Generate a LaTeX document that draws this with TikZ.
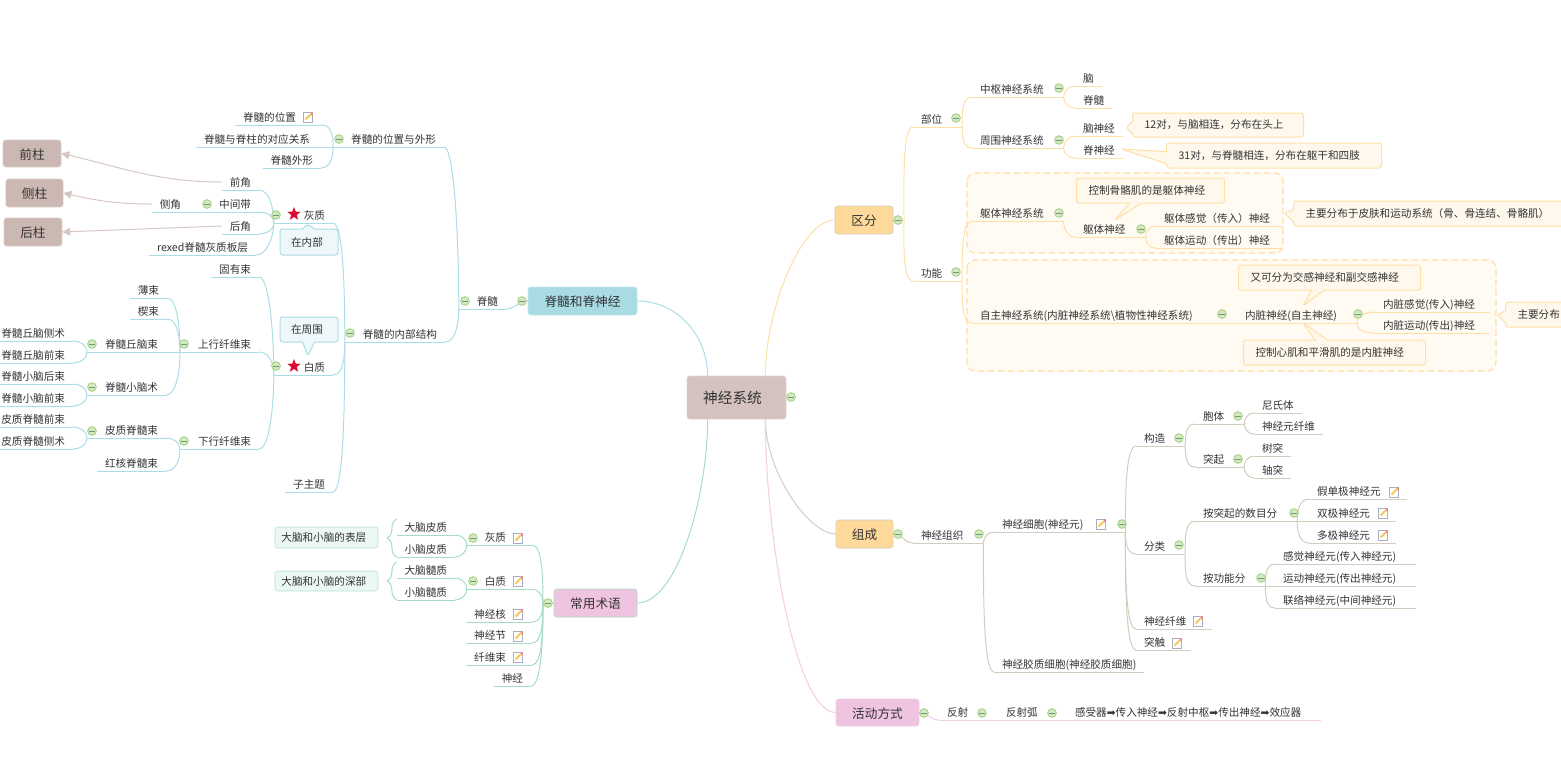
\documentclass[tikz,border=0pt]{standalone}
\usepackage{fontspec}
\setmainfont{Noto Sans CJK SC}
\newfontfamily\symfont{DejaVu Sans}
\usetikzlibrary{arrows.meta,shapes.geometric,shapes.callouts,decorations.pathreplacing}
\definecolor{ink}{HTML}{333333}
\definecolor{sky}{HTML}{ABDDE6}
\definecolor{amber}{HTML}{FFDFA6}
\definecolor{mint}{HTML}{A6DCC6}
\definecolor{sand}{HTML}{D3CDBF}
\definecolor{blush}{HTML}{F3CBE4}
\definecolor{rootfill}{HTML}{D3C2BE}
\definecolor{pillar}{HTML}{CBB8B2}
\definecolor{pillarln}{HTML}{D6C7C3}
\definecolor{orange}{HTML}{FFD999}
\definecolor{cyan}{HTML}{A9DBE3}
\definecolor{rose}{HTML}{EFC4E0}
\definecolor{foldring}{HTML}{A0CF7C}
\definecolor{foldfill}{HTML}{D5E8C4}
\definecolor{foldbar}{HTML}{6E9C70}
\definecolor{noteln}{HTML}{ABABC6}
\definecolor{notepen}{HTML}{F6CC62}
\definecolor{notetip}{HTML}{EA8796}
\definecolor{starred}{HTML}{DD0A2F}
\tikzset{
  link/.style={line width=.75pt},
  topic/.style={font=\fontsize{7.95pt}{10pt}\selectfont,text=ink,inner xsep=6pt,inner ysep=0pt,outer sep=0pt,
    text height=9pt,text depth=3pt,
    append after command={(\tikzlastnode.south west) edge[link,#1] (\tikzlastnode.south east)}},
  rleaf/.style={topic=#1,anchor=south west},
  lleaf/.style={topic=#1,anchor=south east},
  rnode/.style={rleaf=#1,execute at end node={\hspace*{9pt}}},
  lnode/.style={lleaf=#1,execute at begin node={\hspace*{7.5pt}}},
  withnote/.style={execute at end node={\hspace*{13.5pt}}},
  withstar/.style={execute at begin node={\hspace*{9pt}}},
  tailgap/.style={execute at end node={\hspace*{#1}}},
  rup/.style={out=90,in=180,in max distance=8pt},
  rdn/.style={out=-90,in=180,in max distance=8pt},
  lup/.style={out=90,in=0,in max distance=8pt},
  ldn/.style={out=-90,in=0,in max distance=8pt},
  mainbox/.style={rectangle,rounded corners=2pt,text=ink,font=\fontsize{9.5pt}{12pt}\selectfont,inner sep=0pt,
    text height=9.5pt,text depth=1pt},
  tagbox/.style={rectangle,rounded corners=2pt,text=ink,font=\fontsize{7.95pt}{10pt}\selectfont,inner sep=0pt},
  amberc/.style={rectangle callout,rounded corners=2pt,draw=amber,fill=amber!20,line width=.75pt,text=ink,
    font=\fontsize{7.95pt}{10pt}\selectfont,inner sep=0pt,callout pointer width=9pt},
  skyc/.style={amberc,draw=sky,fill=sky!20},
  flush/.style={anchor=west,align=left,inner xsep=9pt},
  dashbox/.style={draw=amber,fill=amber!14,line width=.9pt,dash pattern=on 5pt off 2.5pt,rounded corners=6pt},
  fold/.style={circle,draw=foldring,fill=foldfill,line width=.6pt,minimum size=6.5pt,inner sep=0pt,
    path picture={\draw[foldbar,line width=.6pt] (path picture bounding box.center) +(-2pt,0) -- +(2pt,0);}},
  starmark/.style={star,star points=5,star point ratio=2.4,fill=starred,minimum size=10.5pt,inner sep=0pt},
  pointer/.style={draw=pillarln,line width=.75pt,-{Triangle[length=6pt,width=6pt]}},
  noteicon/.pic={
    \draw[draw=noteln,fill=white,line width=.7pt] (-5,-5) rectangle (4,5);
    \draw[notepen,line width=1.6pt] (-2.5,-2.5) -- (3,3);
    \fill[notetip] (2.5,2.5) rectangle (5,5);
  }
}
\begin{document}
\begin{tikzpicture}[x=.75pt,y=.75pt]
\useasboundingbox (0,0) rectangle (1561,-772);
\draw[dashbox] (967,-173) rectangle (1283,-253);
\draw[dashbox] (967,-260) rectangle (1496,-371);

\node[mainbox,fill=rootfill,draw=rootfill!70!white,minimum width=74.25pt,minimum height=32.25pt,font=\fontsize{11pt}{13pt}\selectfont,tailgap=6pt] (root) at (736.5,-397.5) {神经系统};
\node[mainbox,fill=orange,draw=sand,minimum width=43.5pt,minimum height=21pt] (qf) at (864,-220) {区分};
\node[mainbox,fill=orange,draw=sand,minimum width=43pt,minimum height=21pt] (zc) at (864.5,-534) {组成};
\node[mainbox,fill=rose,draw=blush,minimum width=62.25pt,minimum height=20.25pt] (hd) at (877.5,-712.5) {活动方式};
\node[mainbox,fill=cyan,draw=sky!70!white,minimum width=81.75pt,minimum height=21pt] (jsz) at (582.5,-301) {脊髓和脊神经};
\node[mainbox,fill=rose,draw=mint,minimum width=62.25pt,minimum height=21pt] (cy) at (595.5,-603) {常用术语};
\node[mainbox,fill=pillar,draw=pillar!70!white,minimum width=43.5pt,minimum height=20.25pt] (qz) at (32,-153.5) {前柱};
\node[mainbox,fill=pillar,draw=pillar!70!white,minimum width=43pt,minimum height=21pt] (cz) at (34.5,-193) {侧柱};
\node[mainbox,fill=pillar,draw=pillar!70!white,minimum width=43.5pt,minimum height=21pt] (hz) at (33,-232) {后柱};
\node[tagbox,fill=mint!22,draw=mint!80!white,minimum width=77.25pt,minimum height=15.75pt,tailgap=4pt] (bc) at (326.5,-537.5) {大脑和小脑的表层};
\node[tagbox,fill=mint!22,draw=mint!80!white,minimum width=77.25pt,minimum height=15pt,tailgap=4pt] (sb) at (326.5,-581) {大脑和小脑的深部};

\node[lnode=sky] (js) at (506,-309) {脊髓};
\node[lnode=sky] (wx) at (444,-147) {脊髓的位置与外形};
\node[lnode=sky] (nb) at (445,-342) {脊髓的内部结构};
\node[lleaf=sky,withnote] (wz) at (322,-125) {脊髓的位置};
\node[lleaf=sky] (dy) at (318,-147) {脊髓与脊柱的对应关系};
\node[lleaf=sky] (wxing) at (321,-168) {脊髓外形};
\node[lnode=sky,withstar] (gm) at (333,-223) {灰质};
\node[lnode=sky,withstar] (wm) at (333,-375) {白质};
\node[lleaf=sky] (zzt) at (333,-492) {子主题};
\node[lleaf=sky] (qj) at (259,-190) {前角};
\node[lnode=sky] (zjd) at (259,-212) {中间带};
\node[lleaf=sky] (cj) at (189,-212) {侧角};
\node[lleaf=sky] (hj) at (259,-234) {后角};
\node[lleaf=sky] (rex) at (256,-255) {rexed脊髓灰质板层};
\node[lleaf=sky] (gy) at (259,-277) {固有束};
\node[lnode=sky] (sx) at (259,-352) {上行纤维束};
\node[lnode=sky] (xx) at (259,-449) {下行纤维束};
\node[lleaf=sky] (bs) at (167,-298) {薄束};
\node[lleaf=sky] (xs) at (167,-319) {楔束};
\node[lnode=sky] (qn) at (166,-352) {脊髓丘脑束};
\node[lnode=sky] (xn) at (166,-395) {脊髓小脑术};
\node[lnode=sky] (pj) at (166,-438) {皮质脊髓束};
\node[lleaf=sky] (hh) at (166,-471) {红核脊髓束};
\node[lleaf=sky] (qnc) at (73,-341) {脊髓丘脑侧术};
\node[lleaf=sky] (qnq) at (73,-363) {脊髓丘脑前束};
\node[lleaf=sky] (xnh) at (73,-384) {脊髓小脑后束};
\node[lleaf=sky] (xnq) at (73,-406) {脊髓小脑前束};
\node[lleaf=sky] (pjq) at (73,-427) {皮质脊髓前束};
\node[lleaf=sky] (pjc) at (73,-449) {皮质脊髓侧术};

\coordinate (cyt) at (543,-603);
\node[lnode=mint,withnote] (hui) at (532,-545) {灰质};
\node[lnode=mint,withnote] (bai) at (532,-589) {白质};
\node[lleaf=mint,withnote] (sjh) at (532,-622) {神经核};
\node[lleaf=mint,withnote] (sjj) at (532,-643) {神经节};
\node[lleaf=mint,withnote] (xws) at (532,-665) {纤维束};
\node[lleaf=mint] (sj) at (531,-686) {神经};
\node[lleaf=mint] (dnp) at (455,-535) {大脑皮质};
\node[lleaf=mint] (xnp) at (455,-557) {小脑皮质};
\node[lleaf=mint] (dns) at (455,-578) {大脑髓质};
\node[lleaf=mint] (xns) at (455,-600) {小脑髓质};

\coordinate (qft) at (904,-220);
\node[rnode=amber] (bw) at (913,-127) {部位};
\node[rnode=amber] (gn) at (913,-281) {功能};
\node[rnode=amber] (zs) at (972,-97) {中枢神经系统};
\node[rnode=amber] (zw) at (972,-148) {周围神经系统};
\node[rleaf=amber] (nao) at (1075,-86) {脑};
\node[rleaf=amber] (jsu) at (1075,-108) {脊髓};
\node[rleaf=amber] (nsj) at (1075,-136) {脑神经};
\node[rleaf=amber] (jsj) at (1075,-158) {脊神经};
\node[rnode=amber] (qt) at (972,-221) {躯体神经系统};
\node[rnode=amber] (qs) at (1075,-237) {躯体神经};
\node[rleaf=amber,tailgap=4pt] (qg) at (1156,-226) {躯体感觉（传入）神经};
\node[rleaf=amber,tailgap=4pt] (qy) at (1156,-248) {躯体运动（传出）神经};
\node[rnode=amber] (zizhu) at (972,-323) {自主神经系统(内脏神经系统\textbackslash 植物性神经系统)};
\node[rnode=amber] (nz) at (1237,-323) {内脏神经(自主神经)};
\node[rleaf=amber,tailgap=5pt] (ng) at (1375,-312) {内脏感觉(传入)神经};
\node[rleaf=amber,tailgap=5pt] (ny) at (1375,-333) {内脏运动(传出)神经};

\node[rnode=sand] (zuzhi) at (913,-543) {神经组织};
\node[rnode=sand,withnote,tailgap=3pt] (xb) at (994,-532) {神经细胞(神经元)};
\node[rleaf=sand] (jz) at (994,-672) {神经胶质细胞(神经胶质细胞)};
\node[rnode=sand] (gz) at (1136,-446) {构造};
\node[rnode=sand] (fl) at (1136,-554) {分类};
\node[rleaf=sand,withnote] (xw) at (1136,-629) {神经纤维};
\node[rleaf=sand,withnote] (tc) at (1136,-650) {突触};
\node[rnode=sand] (bt) at (1195,-424) {胞体};
\node[rnode=sand] (tq) at (1195,-467) {突起};
\node[rleaf=sand] (ns) at (1254,-413) {尼氏体};
\node[rleaf=sand] (xy) at (1254,-434) {神经元纤维};
\node[rleaf=sand] (st) at (1254,-456) {树突};
\node[rleaf=sand] (zt) at (1254,-478) {轴突};
\node[rnode=sand] (szq) at (1195,-521) {按突起的数目分};
\node[rnode=sand] (agn) at (1195,-586) {按功能分};
\node[rleaf=sand,withnote] (jd) at (1309,-499) {假单极神经元};
\node[rleaf=sand,withnote] (sj2) at (1309,-521) {双极神经元};
\node[rleaf=sand,withnote] (dj) at (1309,-543) {多极神经元};
\node[rnode=sand] (gj) at (1275,-564) {感觉神经元(传入神经元)};
\node[rnode=sand] (yd) at (1275,-586) {运动神经元(传出神经元)};
\node[rnode=sand] (ll) at (1275,-608) {联络神经元(中间神经元)};

\node[rnode=blush] (fs) at (939,-720) {反射};
\node[rnode=blush] (fsh) at (998,-720) {反射弧};
\node[rleaf=blush,tailgap=9pt] (lc) at (1067,-720) {感受器{\symfont ➡}传入神经{\symfont ➡}反射中枢{\symfont ➡}传出神经{\symfont ➡}效应器};

\draw[link,amber] (root.37) to[out=90,in=180,in max distance=25pt] (qf.west);
\draw[link,sky] (root.143) to[out=90,in=0] (jsz.east);
\draw[link,mint] (root.-143) to[out=-90,in=0,in max distance=30pt] (cy.east);
\draw[link,sand] (root.-37) to[out=-90,in=180,in max distance=20pt] (zc.west);
\draw[link,blush] (root.-37) to[out=-90,in=180,in max distance=30pt] (hd.west);

\draw[link,sky] (jsz.west) to[out=180,in=0] (js.south east);
\draw[link,sky] (js.south west) to[lup] (wx.south east);
\draw[link,sky] (js.south west) to[ldn] (nb.south east);
\draw[link,sky] (wx.south west) to[lup] (wz.south east);
\draw[link,sky] (wx.south west) -- (dy.south east);
\draw[link,sky] (wx.south west) to[ldn] (wxing.south east);
\draw[link,sky] (nb.south west) to[lup] (gm.south east);
\draw[link,sky] (nb.south west) to[ldn] (wm.south east);
\draw[link,sky] (nb.south west) to[ldn] (zzt.south east);
\draw[link,sky] (gm.south west) to[lup] (qj.south east);
\draw[link,sky] (gm.south west) to[lup] (zjd.south east);
\draw[link,sky] (gm.south west) to[ldn] (hj.south east);
\draw[link,sky] (gm.south west) to[ldn] (rex.south east);
\draw[link,sky] (zjd.south west) -- (cj.south east);
\draw[link,sky] (wm.south west) to[lup] (gy.south east);
\draw[link,sky] (wm.south west) to[lup] (sx.south east);
\draw[link,sky] (wm.south west) to[ldn] (xx.south east);
\draw[link,sky] (sx.south west) to[lup] (bs.south east);
\draw[link,sky] (sx.south west) to[lup] (xs.south east);
\draw[link,sky] (sx.south west) -- (qn.south east);
\draw[link,sky] (sx.south west) to[ldn] (xn.south east);
\draw[link,sky] (xx.south west) to[lup] (pj.south east);
\draw[link,sky] (xx.south west) to[ldn] (hh.south east);
\draw[link,sky] (qn.south west) to[lup] (qnc.south east);
\draw[link,sky] (qn.south west) to[ldn] (qnq.south east);
\draw[link,sky] (xn.south west) to[lup] (xnh.south east);
\draw[link,sky] (xn.south west) to[ldn] (xnq.south east);
\draw[link,sky] (pj.south west) to[lup] (pjq.south east);
\draw[link,sky] (pj.south west) to[ldn] (pjc.south east);
\draw[pointer] (qj.west) to[out=180,in=-13] (qz.east);
\draw[pointer] (cj.west) to[out=180,in=-13] (cz.east);
\draw[pointer] (hj.west) -- (hz.east);

\draw[link,mint] (cy.west) -- (cyt);
\draw[link,mint] (cyt) to[lup] (hui.south east);
\draw[link,mint] (cyt) to[lup] (bai.south east);
\draw[link,mint] (cyt) to[ldn] (sjh.south east);
\draw[link,mint] (cyt) to[ldn] (sjj.south east);
\draw[link,mint] (cyt) to[ldn] (xws.south east);
\draw[link,mint] (cyt) to[ldn] (sj.south east);
\draw[link,mint] (hui.south west) to[lup] (dnp.south east);
\draw[link,mint] (hui.south west) to[ldn] (xnp.south east);
\draw[link,mint] (bai.south west) to[lup] (dns.south east);
\draw[link,mint] (bai.south west) to[ldn] (xns.south east);
\draw[link,mint,decorate,decoration={brace,amplitude=7pt}] (xnp.south west) -- (dnp.north west);
\draw[link,mint,decorate,decoration={brace,amplitude=7pt}] (xns.south west) -- (dns.north west);

\draw[link,amber] (qf.east) -- (qft);
\draw[link,amber] (qft) to[rup] (bw.south west);
\draw[link,amber] (qft) to[rdn] (gn.south west);
\draw[link,amber] (bw.south east) to[rup] (zs.south west);
\draw[link,amber] (bw.south east) to[rdn] (zw.south west);
\draw[link,amber] (zs.south east) to[rup] (nao.south west);
\draw[link,amber] (zs.south east) to[rdn] (jsu.south west);
\draw[link,amber] (zw.south east) to[rup] (nsj.south west);
\draw[link,amber] (zw.south east) to[rdn] (jsj.south west);
\draw[link,amber] (gn.south east) to[rup] (qt.south west);
\draw[link,amber] (gn.south east) to[rdn] (zizhu.south west);
\draw[link,amber] (qt.south east) to[rdn] (qs.south west);
\draw[link,amber] (qs.south east) to[rup] (qg.south west);
\draw[link,amber] (qs.south east) to[rdn] (qy.south west);
\draw[link,amber] (zizhu.south east) -- (nz.south west);
\draw[link,amber] (nz.south east) to[rup] (ng.south west);
\draw[link,amber] (nz.south east) to[rdn] (ny.south west);

\draw[link,sand] (zc.east) to[out=0,in=180] (zuzhi.south west);
\draw[link,sand] (zuzhi.south east) to[rup] (xb.south west);
\draw[link,sand] (zuzhi.south east) to[rdn] (jz.south west);
\draw[link,sand] (xb.south east) to[rup] (gz.south west);
\draw[link,sand] (xb.south east) to[rdn] (fl.south west);
\draw[link,sand] (xb.south east) to[rdn] (xw.south west);
\draw[link,sand] (xb.south east) to[rdn] (tc.south west);
\draw[link,sand] (gz.south east) to[rup] (bt.south west);
\draw[link,sand] (gz.south east) to[rdn] (tq.south west);
\draw[link,sand] (bt.south east) to[rup] (ns.south west);
\draw[link,sand] (bt.south east) to[rdn] (xy.south west);
\draw[link,sand] (tq.south east) to[rup] (st.south west);
\draw[link,sand] (tq.south east) to[rdn] (zt.south west);
\draw[link,sand] (fl.south east) to[rup] (szq.south west);
\draw[link,sand] (fl.south east) to[rdn] (agn.south west);
\draw[link,sand] (szq.south east) to[rup] (jd.south west);
\draw[link,sand] (szq.south east) -- (sj2.south west);
\draw[link,sand] (szq.south east) to[rdn] (dj.south west);
\draw[link,sand] (agn.south east) to[rup] (gj.south west);
\draw[link,sand] (agn.south east) -- (yd.south west);
\draw[link,sand] (agn.south east) to[rdn] (ll.south west);

\draw[link,blush] (hd.east) to[out=0,in=180] (fs.south west);
\draw[link,blush] (fs.south east) -- (fsh.south west);
\draw[link,blush] (fsh.south east) -- (lc.south west);

\node[amberc,flush,text width=110.25pt,minimum height=18pt,callout absolute pointer={(1126,-127)}] (c12) at (1132,-125) {12对，与脑相连，分布在头上};
\node[amberc,flush,text width=143.25pt,minimum height=18.75pt,callout absolute pointer={(1121,-149)}] (c31) at (1166,-155.5) {31对，与脊髓相连，分布在躯干和四肢};
\node[amberc,flush,text width=93pt,minimum height=18.75pt,callout absolute pointer={(1115,-220)}] (cgg) at (1076,-190.5) {控制骨骼肌的是躯体神经};
\node[amberc,flush,text width=212pt,minimum height=18.75pt,callout absolute pointer={(1284,-213)}] (cpf) at (1293,-213.5) {主要分布于皮肤和运动系统（骨、骨连结、骨骼肌）};
\node[amberc,flush,text width=118.5pt,minimum height=18.75pt,callout absolute pointer={(1303,-306)}] (cjg) at (1238,-277.5) {又可分为交感神经和副交感神经};
\node[amberc,flush,text width=118.5pt,minimum height=18.75pt,callout absolute pointer={(1303,-323)}] (cxj) at (1243,-352.5) {控制心肌和平滑肌的是内脏神经};
\node[amberc,flush,text width=56pt,minimum height=18.75pt,callout absolute pointer={(1497,-315)}] (cfb) at (1505,-314.5) {主要分布};
\node[skyc,minimum width=43.5pt,minimum height=19.5pt,callout absolute pointer={(308,-224)},tailgap=3pt] (cnb) at (309,-242) {在内部};
\node[skyc,minimum width=43.5pt,minimum height=18.75pt,callout absolute pointer={(308,-356)},tailgap=3pt] (czw) at (309,-329.5) {在周围};

\node[starmark] (sgm) at (294,-214) {};
\node[starmark] (swm) at (294,-366) {};

\pic at (308,-117) {noteicon};
\pic at (518,-538) {noteicon};
\pic at (518,-581) {noteicon};
\pic at (518,-614) {noteicon};
\pic at (518,-636) {noteicon};
\pic at (518,-657) {noteicon};
\pic at (1101,-524) {noteicon};
\pic at (1198,-621) {noteicon};
\pic at (1177,-643) {noteicon};
\pic at (1394,-492) {noteicon};
\pic at (1383,-513) {noteicon};
\pic at (1383,-535) {noteicon};

\node[fold] (froot) at (791,-397) {};
\node[fold] (fqf) at (898,-220) {};
\node[fold] (fzc) at (898,-534) {};
\node[fold] (fhd) at (924,-713) {};
\node[fold] (fjsz) at (522,-301) {};
\node[fold] (fcy) at (548,-603) {};
\node[fold] (fjs) at (465,-301) {};
\node[fold] (fwx) at (339,-139) {};
\node[fold] (fnb) at (350,-333) {};
\node[fold] (fgm) at (276,-215) {};
\node[fold] (fwm) at (276,-366) {};
\node[fold] (fzjd) at (207,-204) {};
\node[fold] (fsx) at (184,-344) {};
\node[fold] (fxx) at (184,-441) {};
\node[fold] (fqn) at (92,-344) {};
\node[fold] (fxn) at (92,-387) {};
\node[fold] (fpj) at (92,-431) {};
\node[fold] (fhui) at (473,-538) {};
\node[fold] (fbai) at (473,-581) {};
\node[fold] (fbw) at (956,-118) {};
\node[fold] (fgn) at (956,-272) {};
\node[fold] (fzs) at (1059,-88) {};
\node[fold] (fzw) at (1059,-140) {};
\node[fold] (fqt) at (1059,-213) {};
\node[fold] (fqs) at (1141,-229) {};
\node[fold] (fzizhu) at (1222,-314) {};
\node[fold] (fnz) at (1358,-314) {};
\node[fold] (fzuzhi) at (979,-534) {};
\node[fold] (fxb) at (1122,-524) {};
\node[fold] (fgz) at (1179,-438) {};
\node[fold] (ffl) at (1179,-545) {};
\node[fold] (fbt) at (1238,-416) {};
\node[fold] (ftq) at (1238,-459) {};
\node[fold] (fszq) at (1294,-513) {};
\node[fold] (fagn) at (1261,-578) {};
\node[fold] (ffs) at (982,-713) {};
\node[fold] (ffsh) at (1052,-713) {};
\end{tikzpicture}
\end{document}
